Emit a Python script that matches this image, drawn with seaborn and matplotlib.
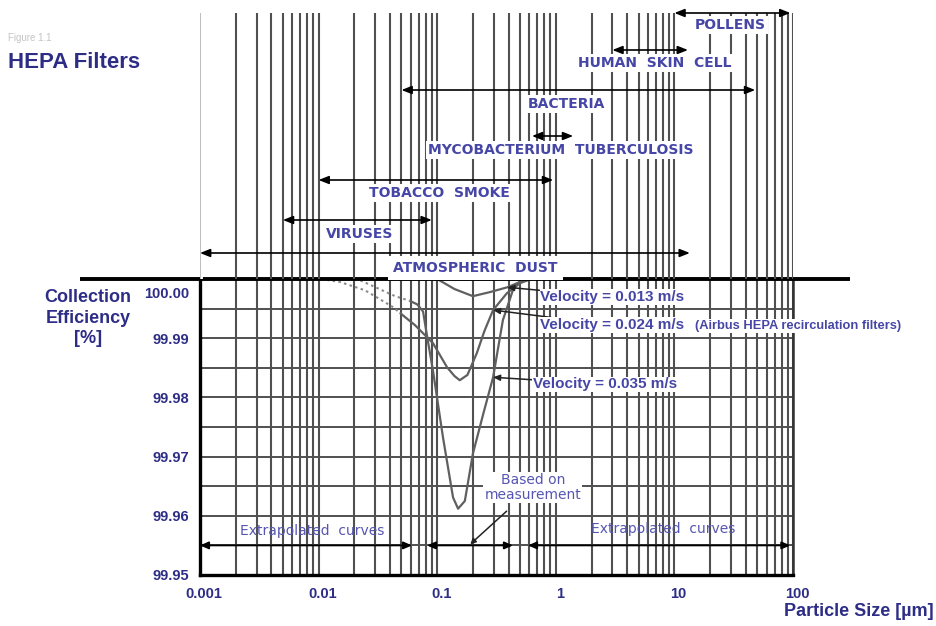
import numpy as np
import pandas as pd
import matplotlib
matplotlib.use("Agg")
import matplotlib.pyplot as plt
import seaborn as sns
from matplotlib.ticker import LogLocator, NullFormatter
from matplotlib.transforms import ScaledTranslation

# ---- particle size ranges [µm] ----
size_labels = ["POLLENS", "HUMAN  SKIN  CELL", "BACTERIA",
               "MYCOBACTERIUM  TUBERCULOSIS", "TOBACCO  SMOKE", "VIRUSES",
               "ATMOSPHERIC  DUST"]
size_low = [10.0, 3.0, 0.05, 0.63, 0.01, 0.005, 0.001]
size_high = [95.0, 13.0, 48.0, 1.4, 0.95, 0.09, 13.5]

# ---- collection efficiency curves [%] vs particle size [µm] ----
v013_size = [0.1, 0.14, 0.2, 0.28, 0.39, 0.5, 0.6]
v013_eff = [100.0, 99.9983, 99.9971, 99.9978, 99.9986, 99.9995, 99.9999]

v024_dot_size = [0.0105, 0.0151, 0.0246, 0.0424, 0.049]
v024_dot_eff = [100.0, 99.9995, 99.9981, 99.99525, 99.9942]
v024_size = [0.049, 0.065, 0.0922, 0.121, 0.14, 0.155, 0.18, 0.216, 0.25,
             0.296, 0.387, 0.5, 0.6]
v024_eff = [99.9942, 99.9922, 99.98915, 99.9851, 99.9836, 99.9829, 99.9838,
            99.9875, 99.9912, 99.99475, 99.9976, 99.9993, 99.9999]

v035_dot_size = [0.018, 0.0223, 0.031, 0.0442, 0.059]
v035_dot_eff = [100.0, 99.9998, 99.9985, 99.9971, 99.9963]
v035_size = [0.059, 0.068, 0.076, 0.083, 0.092, 0.112, 0.136, 0.15, 0.171,
             0.2, 0.243, 0.296, 0.358, 0.435, 0.5, 0.6]
v035_eff = [99.9963, 99.9957, 99.9945, 99.9898, 99.9846, 99.9732, 99.9631,
            99.9612, 99.9625, 99.9705, 99.977, 99.9834, 99.99305, 99.99814,
            99.99966, 100.0]

# ---- measured / extrapolated size ranges [µm] ----
extrap_left = (0.001, 0.0613)
measured = (0.082, 0.435)
extrap_right = (0.583, 95.0)

xtick_values = [0.001, 0.01, 0.1, 1, 10, 100]
xtick_labels = ["0.001", "0.01", "0.1", "1", "10", "100"]
ytick_values = [99.95, 99.96, 99.97, 99.98, 99.99, 100.00]
ytick_labels = ["99.95", "99.96", "99.97", "99.98", "99.99", "100.00"]

NAVY = "#2d2d86"
LABEL_BLUE = "#4646a6"
SOFT_BLUE = "#5656b2"
GRID = "#505050"

sns.set_theme(style="white")
plt.rcParams["font.family"] = ["Liberation Sans", "DejaVu Sans"]

W, H = 936, 626
fig = plt.figure(figsize=(W / 100, H / 100), dpi=100)


def rect(l, t, r, b):
    return [l / W, 1 - b / H, (r - l) / W, (b - t) / H]


ax = fig.add_axes(rect(200, 279, 793, 575))
ax_top = fig.add_axes(rect(200, 13, 793, 279), sharex=ax)

# ---- shared log particle-size axis ----
ax.set_xscale("log")
ax.set_xlim(0.001, 100)
ax.set_xticks(xtick_values, labels=xtick_labels)
ax.xaxis.set_minor_locator(LogLocator(base=10, subs=np.arange(2, 10), numticks=12))
ax.xaxis.set_minor_formatter(NullFormatter())

ax.set_ylim(99.95, 100.0)
ax.set_yticks(ytick_values, labels=ytick_labels)
ax.set_yticks(np.array(ytick_values[:-1]) + 0.005, minor=True)

for a in (ax, ax_top):
    a.grid(True, which="both", axis="x", color=GRID, linewidth=1.5)
ax.grid(True, which="both", axis="y", color=GRID, linewidth=1.4)

ax.tick_params(axis="both", which="both", length=0)
ax.tick_params(axis="x", pad=9, labelsize=10.5, labelcolor=NAVY)
ax.tick_params(axis="y", pad=8, labelsize=10.5, labelcolor=NAVY)
for lbl in ax.get_xticklabels() + ax.get_yticklabels():
    lbl.set_fontweight("bold")
for lbl in ax.get_xticklabels():
    lbl.set_transform(lbl.get_transform() + ScaledTranslation(0.04, 0, fig.dpi_scale_trans))
top_lbl = ax.get_yticklabels()[-1]
top_lbl.set_transform(top_lbl.get_transform() + ScaledTranslation(0, -0.14, fig.dpi_scale_trans))

for side in ("left", "bottom"):
    ax.spines[side].set_color("black")
    ax.spines[side].set_linewidth(2.4)
ax.spines["right"].set_color("#333333")
ax.spines["right"].set_linewidth(1.8)
ax.spines["top"].set_visible(False)

# heavy separator line between size chart and efficiency chart
ax.plot([-0.2024, 1.096], [1, 1], transform=ax.transAxes, color="black",
        lw=2.8, clip_on=False, zorder=3, solid_capstyle="butt")

# ---- efficiency curves ----
line_kw = dict(ax=ax, estimator=None, sort=False, legend=False)
sns.lineplot(x=v013_size, y=v013_eff, color="#606060", lw=1.6, **line_kw)
sns.lineplot(x=v024_size, y=v024_eff, color="#606060", lw=1.6, **line_kw)
sns.lineplot(x=v035_size, y=v035_eff, color="#606060", lw=1.6, **line_kw)
sns.lineplot(x=v024_dot_size, y=v024_dot_eff, color="#8a8a8a", lw=1.5,
             linestyle=(0, (1.2, 1.6)), **line_kw)
sns.lineplot(x=v035_dot_size, y=v035_dot_eff, color="#8a8a8a", lw=1.5,
             linestyle=(0, (1.2, 1.6)), **line_kw)

lead = dict(arrowstyle="-|>,head_length=0.5,head_width=0.22", color="#222222",
            lw=1.1, mutation_scale=8, shrinkA=0, shrinkB=0)
vel_kw = dict(fontsize=11, fontweight="bold", color=LABEL_BLUE, ha="left",
              va="center", zorder=6,
              bbox=dict(facecolor="white", edgecolor="none", pad=0.6))
ax.annotate("Velocity = 0.013 m/s", xy=(v013_size[4], v013_eff[4]),
            xytext=(0.74, 99.99695), arrowprops=lead, **vel_kw)
ax.annotate("Velocity = 0.024 m/s", xy=(v024_size[9], v024_eff[9]),
            xytext=(0.74, 99.9922), arrowprops=lead, **vel_kw)
ax.text(15.0, 99.9921, "(Airbus HEPA recirculation filters)", fontsize=9.3,
        fontweight="bold", color=LABEL_BLUE, ha="left", va="center",
        zorder=6, clip_on=False,
        bbox=dict(facecolor="white", edgecolor="none", pad=0.6))
ax.annotate("Velocity = 0.035 m/s", xy=(v035_size[11], v035_eff[11]),
            xytext=(0.645, 99.9822), arrowprops=lead, **vel_kw)

# ---- measured / extrapolated ranges ----
rng = dict(arrowstyle="<|-|>,head_length=0.5,head_width=0.22", color="black",
           lw=1.3, mutation_scale=10, shrinkA=0, shrinkB=0)
row_y = 99.955
for lo, hi in (extrap_left, measured, extrap_right):
    ax.annotate("", xy=(hi, row_y), xytext=(lo, row_y), arrowprops=rng,
                annotation_clip=False)

soft_kw = dict(family=["DejaVu Sans"], fontsize=10, color=SOFT_BLUE,
               ha="center", va="center", zorder=6)
ax.text(0.0088, 99.9575, "Extrapolated  curves", **soft_kw)
ax.text(8.0, 99.9578, "Extrapolated  curves", **soft_kw)
ax.annotate("Based on\nmeasurement", xy=(0.19, row_y + 0.0002),
            xytext=(0.64, 99.9648), linespacing=1.05,
            arrowprops=dict(arrowstyle="-|>,head_length=0.4,head_width=0.2",
                            color="#222222", lw=1.1, mutation_scale=8,
                            shrinkA=9, shrinkB=0),
            bbox=dict(facecolor="white", edgecolor="none", pad=0.8),
            **soft_kw)

# ---- particle size chart ----
ax_top.set_ylim(279, 13)
ax_top.set_facecolor("none")
ax_top.tick_params(axis="both", which="both", length=0, labelbottom=False,
                   labelleft=False)
for s in ax_top.spines.values():
    s.set_visible(False)
ax_top.axvline(0.001, color="white", lw=3.5, zorder=1)
ax_top.axvline(0.001, color="#b8b8b8", lw=1.3, zorder=1.1)

arrow_rows = [13, 50, 90, 136, 180, 220, 253]
label_rows = [25, 63, 104, 150, 193, 234, 268]
label_x = [29.4, 6.86, 1.24, 1.107, 0.1035, 0.0223, 0.2085]
span = dict(arrowstyle="<|-|>,head_length=0.5,head_width=0.2", color="black",
            lw=1.2, mutation_scale=12, shrinkA=0, shrinkB=0)
for name, lo, hi, ar, lr, lx in zip(size_labels, size_low, size_high,
                                    arrow_rows, label_rows, label_x):
    ax_top.annotate("", xy=(hi, ar), xytext=(lo, ar), arrowprops=span,
                    annotation_clip=False, zorder=4)
    pad = 3.8 if name.startswith("ATMOS") else 1.6
    ax_top.text(lx, lr, name, family=["DejaVu Sans"], fontsize=10,
                fontweight="bold", color=LABEL_BLUE, ha="center",
                va="center", zorder=5, clip_on=False,
                bbox=dict(facecolor="white", edgecolor="none", pad=pad))

# ---- titles ----
fig.text(8 / W, 1 - 38 / H, "Figure 1.1", fontsize=7, color="#c4c4c4",
         ha="left", va="center")
fig.text(8 / W, 1 - 63 / H, "HEPA Filters", fontsize=16, fontweight="bold",
         color=NAVY, ha="left", va="center")
fig.text(88 / W, 1 - 318 / H, "Collection\nEfficiency\n[%]", fontsize=13,
         fontweight="bold", color=NAVY, ha="center", va="center",
         multialignment="center", linespacing=1.3)
fig.text(934 / W, 1 - 612 / H, "Particle Size [µm]", fontsize=13,
         fontweight="bold", color=NAVY, ha="right", va="center")

fig.savefig("out.png", dpi=100, facecolor="white")
